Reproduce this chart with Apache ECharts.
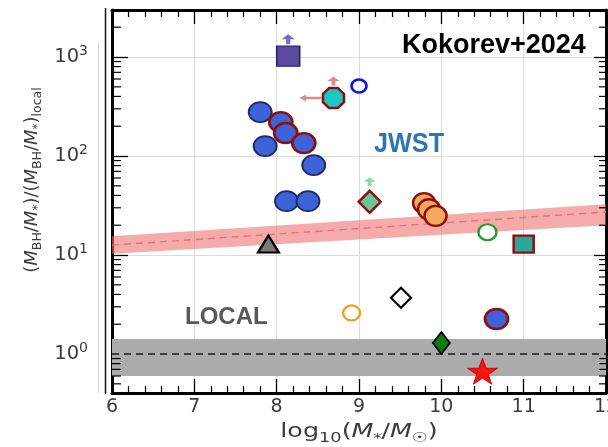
<!DOCTYPE html>
<html><head><meta charset="utf-8">
<script src="https://cdn.jsdelivr.net/npm/echarts@6/dist/echarts.min.js"></script>
<style>html,body{margin:0;padding:0;background:#fff}#c{width:608px;height:447px}</style>
</head><body><div id="c"></div>
<script>
// ---- data ----
const xMin = 6, xMax = 12;
const yMin = 0.404, yMax = 2985;
const yMinorTicks = [0.5,0.6,0.7,0.8,0.9,2,3,4,5,6,7,8,9,20,30,40,50,60,70,80,90,200,300,400,500,600,700,800,900,2000];

const blueX = [7.80, 7.86, 8.45, 8.12, 8.38];
const blueY = [278, 126, 81, 35, 35];
const blueRedX = [8.05, 8.11, 8.33, 10.67];
const blueRedY = [220, 171, 135, 2.26];
const orangeX = [9.79, 9.85, 9.93];
const orangeY = [33.5, 29, 24.8];
const purpleSq = [[8.14, 1020]];
const blueOpen = [[9.0, 510]];
const cyanOct = [[8.69, 385]];
const greenDiamond = [[9.13, 34.5]];
const greenOpen = [[10.56, 17]];
const tealSq = [[11.0, 12.9]];
const grayTri = [[7.9, 12.9]];
const openDiamond = [[9.51, 3.7]];
const orangeOpen = [[8.91, 2.6]];
const darkGreenDiamond = [[10.0, 1.29]];
const redStar = [[10.5, 0.67]];

const relX = [6, 12];
const relMid = [12.6, 27.2];
const relHi = [15.5, 32.5];
const relLo = [10.3, 20.0];
const localLo = 0.6, localHi = 1.42, localMid = 1.0;

// ---- helpers ----
const zip = (xs, ys) => xs.map((x, i) => [x, ys[i]]);
const upArrow = 'path://M5,0 L10,5 L6.6,5 L6.6,10 L3.4,10 L3.4,5 L0,5 Z';
const leftArrow = 'path://M0,5 L9,0 L9,3.3 L30,3.3 L30,6.7 L9,6.7 L9,10 Z';
const octagon = 'path://M2.93,0 L7.07,0 L10,2.93 L10,7.07 L7.07,10 L2.93,10 L0,7.07 L0,2.93 Z';
const star = 'path://M50,0 L61.8,35.1 L98.1,35.1 L68.8,56.7 L79.4,91 L50,70 L20.6,91 L31.2,56.7 L1.9,35.1 L38.2,35.1 Z';
const DR = '#8a1111';
const FONT = 'DejaVu Sans';
const TXT = '#3c3c3c';

function sc(data, symbol, size, fill, stroke, bw, extra) {
  return Object.assign({
    type: 'scatter', data: data, symbol: symbol, symbolSize: size, z: 4,
    itemStyle: { color: fill, borderColor: stroke, borderWidth: bw, opacity: 1 },
    emphasis: { disabled: true }, silent: true
  }, extra || {});
}

const chart = echarts.init(document.getElementById('c'), null, { renderer: 'canvas' });

const option = {
  animation: false,
  backgroundColor: '#fff',
  grid: { left: 112, right: 2, top: 10, bottom: 54, containLabel: false, outerBoundsMode: 'none' },
  xAxis: [{
    type: 'value', min: xMin, max: xMax, interval: 1, position: 'bottom',
    axisLine: { show: true, onZero: false, lineStyle: { color: '#000', width: 3 } },
    axisTick: { show: true, inside: true, length: 14, lineStyle: { color: '#000', width: 1.3 } },
    minorTick: { show: true, splitNumber: 5, length: 7, lineStyle: { color: '#000', width: 1.2 } },
    splitLine: { show: true, lineStyle: { color: '#dcdcdc', width: 1 } },
    axisLabel: { show: true, margin: 5, fontFamily: FONT, fontSize: 19, color: TXT }
  }, {
    type: 'value', min: xMin, max: xMax, interval: 1, position: 'top',
    axisLine: { show: true, onZero: false, lineStyle: { color: '#000', width: 3 } },
    axisTick: { show: true, inside: true, length: 14, lineStyle: { color: '#000', width: 1.3 } },
    minorTick: { show: true, splitNumber: 5, length: 7, lineStyle: { color: '#000', width: 1.2 } },
    splitLine: { show: false },
    axisLabel: { show: false }
  }],
  yAxis: [{
    type: 'log', logBase: 10, min: yMin, max: yMax, position: 'left',
    axisLine: { show: true, onZero: false, lineStyle: { color: '#000', width: 3 } },
    axisTick: { show: true, inside: true, length: 16, lineStyle: { color: '#000', width: 1.3 } },
    splitLine: { show: true, lineStyle: { color: '#dcdcdc', width: 1 } },
    axisLabel: {
      show: true, margin: 24, showMinLabel: false, showMaxLabel: false,
      fontFamily: FONT, fontSize: 19.5, color: TXT,
      formatter: function (v) {
        const e = Math.round(Math.log10(v));
        if (Math.abs(Math.log10(v) - e) > 1e-6) return '';
        return '10{sup|' + e + '}';
      },
      rich: { sup: { fontFamily: FONT, fontSize: 14, color: TXT, verticalAlign: 'top', lineHeight: 25 } }
    }
  }, {
    type: 'log', logBase: 10, min: yMin, max: yMax, position: 'right',
    axisLine: { show: true, onZero: false, lineStyle: { color: '#000', width: 3 } },
    axisTick: { show: true, inside: true, length: 12, lineStyle: { color: '#000', width: 1.3 } },
    splitLine: { show: false },
    axisLabel: { show: false }
  }],
  graphic: [
    { type: 'line', shape: { x1: 98.5, y1: 42, x2: 98.5, y2: 393 }, style: { stroke: '#d6d6d6', lineWidth: 1 }, silent: true },
    { type: 'line', shape: { x1: 105.5, y1: 8, x2: 105.5, y2: 394 }, style: { stroke: '#111', lineWidth: 1.5 }, silent: true },
    {
      type: 'text', left: 402, top: 32, silent: true, z: 10,
      style: { text: 'Kokorev+2024', fontFamily: 'Liberation Sans', fontWeight: 'bold', fontSize: 27, fill: '#000' }
    },
    {
      type: 'text', x: 374, y: 130, scaleX: 0.885, silent: true, z: 10,
      style: { text: 'JWST', fontFamily: 'Liberation Sans', fontWeight: 'bold', fontSize: 28.5, fill: '#2e75b6' }
    },
    {
      type: 'text', x: 185, y: 305, silent: true, z: 10,
      style: { text: 'LOCAL', fontFamily: 'Liberation Sans', fontWeight: 'bold', fontSize: 24, fill: '#595959' }
    },
    {
      type: 'text', x: 359, y: 432, scaleX: 1.27, silent: true, z: 10,
      style: {
        text: 'log{s|10}({m|M}{ss|*}/{m|M}{s|☉})',
        align: 'center', verticalAlign: 'middle',
        fontFamily: FONT, fontSize: 20, fill: TXT,
        rich: {
          m: { fontFamily: FONT, fontStyle: 'italic', fontSize: 20, fill: TXT, lineHeight: 26 },
          s: { fontFamily: FONT, fontSize: 14, fill: TXT, verticalAlign: 'bottom', lineHeight: 26 },
          ss: { fontFamily: FONT, fontSize: 12.5, fill: TXT, verticalAlign: 'bottom', lineHeight: 22 }
        }
      }
    },
    {
      type: 'text', x: 32, y: 180, rotation: Math.PI / 2, silent: true, z: 10,
      style: {
        text: '({m|M}{s|BH}/{m|M}{ss|*})/({m|M}{s|BH}/{m|M}{ss|*}){s|local}',
        align: 'center', verticalAlign: 'middle',
        fontFamily: FONT, fontSize: 18, fill: TXT,
        rich: {
          m: { fontFamily: FONT, fontStyle: 'italic', fontSize: 18, fill: TXT, lineHeight: 24 },
          s: { fontFamily: FONT, fontSize: 12.5, fill: TXT, verticalAlign: 'bottom', lineHeight: 24 },
          ss: { fontFamily: FONT, fontSize: 12, fill: TXT, verticalAlign: 'bottom', lineHeight: 21 }
        }
      }
    }
  ],
  series: [
    {
      type: 'line', data: [[xMin, localMid], [xMax, localMid]], symbol: 'none', z: 2, silent: true,
      lineStyle: { color: '#1a1a1a', width: 1.6, type: [7, 5] },
      markArea: { silent: true, itemStyle: { color: '#ababab', opacity: 1 }, data: [[{ yAxis: localLo }, { yAxis: localHi }]] }
    },
    {
      type: 'custom', data: [[relX[0], relMid[0]]], z: 2, silent: true,
      renderItem: function (params, api) {
        const pts = [];
        for (let i = 0; i < relX.length; i++) pts.push(api.coord([relX[i], relHi[i]]));
        for (let i = relX.length - 1; i >= 0; i--) pts.push(api.coord([relX[i], relLo[i]]));
        return { type: 'polygon', shape: { points: pts }, style: { fill: 'rgba(240,110,110,0.58)' } };
      }
    },
    {
      type: 'line', data: zip(relX, relMid), symbol: 'none', z: 3, silent: true,
      lineStyle: { color: '#e77272', width: 1.4, type: [7, 5] }
    },
    {
      type: 'custom', data: yMinorTicks.map(v => [xMin, v]), z: 6, silent: true,
      renderItem: function (params, api) {
        const p = api.coord([xMin, api.value(1)]);
        const cs = params.coordSys;
        return {
          type: 'group', children: [
            { type: 'line', shape: { x1: cs.x, y1: p[1], x2: cs.x + 9, y2: p[1] }, style: { stroke: '#000', lineWidth: 1.2 } },
            { type: 'line', shape: { x1: cs.x + cs.width - 7, y1: p[1], x2: cs.x + cs.width, y2: p[1] }, style: { stroke: '#000', lineWidth: 1.2 } }
          ]
        };
      }
    },
    sc(purpleSq, upArrow, [13, 10], '#7a6cc0', '#7a6cc0', 0, { symbolOffset: [0, -17] }),
    sc(cyanOct, upArrow, [12, 9], '#d98c8c', '#d98c8c', 0, { symbolOffset: [0, -17] }),
    sc(cyanOct, leftArrow, [22, 7], '#d98c8c', '#d98c8c', 0, { symbolOffset: [-23, 0] }),
    sc(greenDiamond, upArrow, [12, 9], '#8fd8b0', '#8fd8b0', 0, { symbolOffset: [0, -20] }),
    sc(purpleSq, 'rect', [23, 20], '#5b4aa0', '#2f2468', 1.5),
    sc(blueOpen, 'circle', [15, 13], '#ffffff', '#1010ee', 2.5),
    sc(cyanOct, octagon, [21, 20], '#1fc6c6', DR, 2.5),
    sc(zip(blueX, blueY), 'circle', [23, 20], '#3d63d6', '#1b2b6b', 1.8),
    sc(zip(blueRedX, blueRedY), 'circle', [23, 20], '#3d63d6', DR, 2.6),
    sc(greenDiamond, 'diamond', [22, 22], '#6cc49b', DR, 2.5),
    sc(zip(orangeX, orangeY), 'circle', [22, 20], '#f5a95c', DR, 2.4),
    sc(greenOpen, 'circle', [18, 16], '#ffffff', '#2b9a2b', 2.3),
    sc(tealSq, 'rect', [20, 17], '#2aa89a', DR, 2.3),
    sc(grayTri, 'triangle', [21, 17], '#787878', '#000000', 2.2),
    sc(openDiamond, 'diamond', [20, 20], '#ffffff', '#000000', 2.2),
    sc(orangeOpen, 'circle', [17, 15], '#ffffff', '#f0a020', 2.3),
    sc(darkGreenDiamond, 'diamond', [17, 22], '#0b7d0b', '#000000', 1.8),
    sc(redStar, star, [30, 26], '#ff1010', '#b00000', 0.8)
  ]
};
chart.setOption(option);
</script>
</body></html>
